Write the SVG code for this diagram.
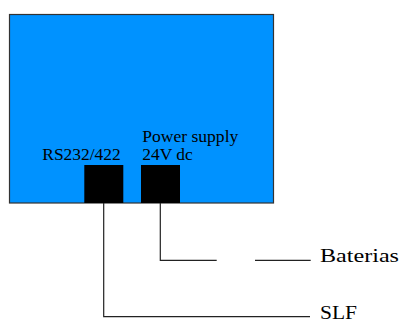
<svg xmlns="http://www.w3.org/2000/svg" width="401" height="325" viewBox="0 0 401 325">
<style>
text{font-family:"Liberation Serif","Times New Roman",serif;fill:#000}
.lbl{font-size:16.5px}
.big{font-size:19px}
.wire{fill:none;stroke:#222;stroke-width:1.2}
</style>
<rect width="401" height="325" fill="#fff"/>
<g id="device">
<rect x="9.5" y="14.5" width="264" height="188.5" fill="#0092ff" stroke="#333" stroke-width="1.2"/>
<text class="lbl" x="142.3" y="141.7" textLength="96" lengthAdjust="spacingAndGlyphs">Power supply</text>
<text class="lbl" x="142.3" y="160" textLength="50.5" lengthAdjust="spacingAndGlyphs">24V dc</text>
<text class="lbl" x="42.3" y="160" textLength="78.4" lengthAdjust="spacingAndGlyphs">RS232/422</text>
</g>
<g id="port-rs232"><rect x="84.3" y="165" width="39" height="38" fill="#000"/></g>
<g id="port-power"><rect x="141" y="165" width="39" height="38" fill="#000"/></g>
<g id="connectors">
<polyline class="wire" points="103.7,203 103.7,316.7 310,316.7" stroke="#555"/>
<polyline class="wire" points="160.3,203 160.3,260.3 216.7,260.3"/>
<line class="wire" x1="255" y1="260.3" x2="310.7" y2="260.3"/>
</g>
<g id="baterias"><text class="big" x="320" y="261.7" textLength="79" lengthAdjust="spacingAndGlyphs">Baterias</text></g>
<g id="slf"><text class="big" x="320" y="319" textLength="37" lengthAdjust="spacingAndGlyphs">SLF</text></g>
</svg>
